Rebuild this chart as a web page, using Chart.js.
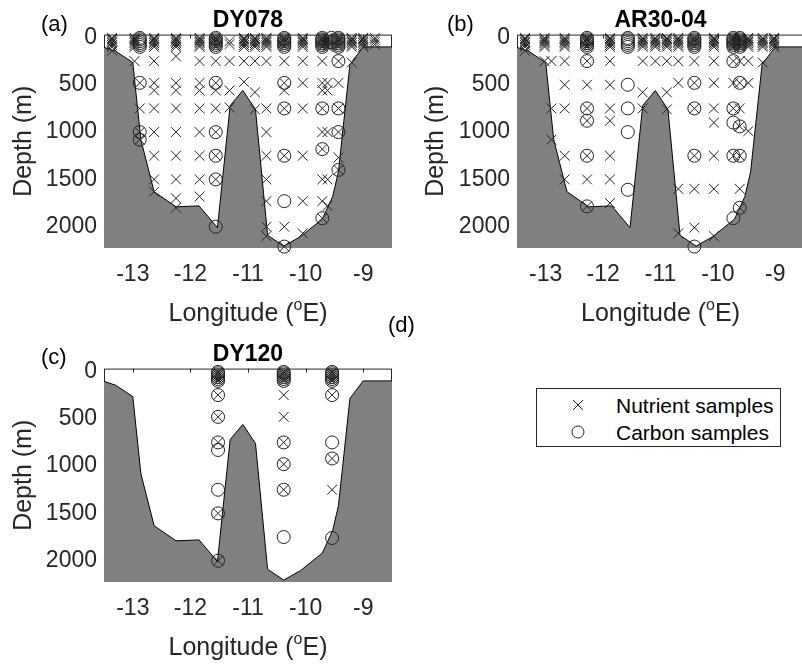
<!DOCTYPE html>
<html>
<head>
<meta charset="utf-8">
<script src="https://cdn.jsdelivr.net/npm/chart.js@4.4.1/dist/chart.umd.min.js"></script>
<style>
  html, body { margin: 0; padding: 0; background: #fff; }
  body { width: 802px; height: 664px; overflow: hidden; position: relative; font-family: "Liberation Sans", Arial, sans-serif; }
  canvas { position: absolute; }
  .tag { position: absolute; font-size: 22px; color: #000; line-height: 1; }
  #legend { position: absolute; left: 536px; top: 388px; width: 243px; height: 57px; border: 1.5px solid #262626; box-sizing: content-box; }
  #legend .row { position: absolute; left: 0; height: 26px; font-size: 21px; color: #000; }
  #legend svg { position: absolute; left: 34px; top: 6px; }
  #legend span { position: absolute; left: 79px; top: 2px; white-space: nowrap; }
</style>
</head>
<body>
<canvas id="pa" width="400" height="330" style="left:0;top:0"></canvas>
<canvas id="pb" width="412" height="330" style="left:400px;top:0"></canvas>
<canvas id="pc" width="400" height="334" style="left:0;top:330px"></canvas>

<div class="tag" style="left:41px;top:13px">(a)</div>
<div class="tag" style="left:447px;top:13px">(b)</div>
<div class="tag" style="left:41px;top:346px">(c)</div>
<div class="tag" style="left:388px;top:314px">(d)</div>

<div id="legend">
  <div class="row" style="top:3px">
    <svg width="14" height="14"><path d="M2 2 L12 12 M12 2 L2 12" stroke="#222" stroke-width="1"/></svg>
    <span>Nutrient samples</span>
  </div>
  <div class="row" style="top:30px">
    <svg width="14" height="14"><circle cx="7" cy="7" r="6" fill="none" stroke="#222" stroke-width="1"/></svg>
    <span>Carbon samples</span>
  </div>
</div>

<script>
// section bathymetry (same for all cruises)
const bathyLon   = [-13.5, -13.3, -13.0, -12.86, -12.63, -12.25, -11.85, -11.53, -11.31, -11.09, -10.87, -10.66, -10.38, -10.09, -9.71, -9.53, -9.43, -9.23, -9.0, -8.5];
const bathyDepth = [105, 145, 265, 1080, 1630, 1790, 1780, 2010, 720, 560, 762, 2090, 2205, 2105, 1920, 1680, 1420, 285, 100, 100];

const lonTicks = [-13, -12, -11, -10, -9];
const depthTicks = [0, 500, 1000, 1500, 2000];

// near-surface sampling depths
const surfN = [5, 15, 30, 45, 60, 80, 100];
const surfC = [5, 20, 40, 60, 80, 100];

// [longitude, depths]
const dy078Nutrients = [
  [-13.36, [...surfN, 140]],
  [-12.97, [...surfN, 250]],
  [-12.88, [480, 750, 1000, 1080]],
  [-12.63, [...surfN, 250, 480, 560, 750, 1000, 1250, 1500, 1630]],
  [-12.25, [...surfN, 200, 480, 560, 750, 1000, 1250, 1500, 1700, 1800]],
  [-11.84, [...surfN, 250, 480, 560, 750, 1000, 1250, 1500, 1680]],
  [-11.56, [...surfN, 250, 480, 560, 750, 1000, 1250, 1500]],
  [-11.32, [40, 70, 250, 560, 740]],
  [-11.07, [...surfN, 250, 470]],
  [-10.88, [...surfN, 250, 580, 760]],
  [-10.68, [...surfN, 250, 750, 1000, 1250, 1500, 1730, 2000, 2100]],
  [-10.37, [...surfN, 250, 480, 560, 750, 1250, 2000, 2210]],
  [-10.05, [...surfN, 250, 480, 750, 1250, 1730, 2070]],
  [-9.71, [...surfN, 250, 480, 560, 750, 1000, 1180, 1500, 1730, 1910]],
  [-9.62, [...surfN, 480, 560, 1000, 1500, 1780]],
  [-9.43, [...surfN, 250, 480, 750, 1000, 1270, 1400]],
  [-9.20, [...surfN, 265]],
  [-9.00, [...surfN]],
  [-8.80, [5, 25, 50, 75]]
];
const dy078Carbon = [
  [-12.88, [...surfC, 480, 1000, 1080]],
  [-11.56, [...surfC, 480, 1000, 1250, 1500, 2000]],
  [-10.37, [...surfC, 480, 750, 1250, 1730, 2210]],
  [-9.71, [...surfC, 750, 1180, 1910]],
  [-9.55, [5, 50]],
  [-9.43, [...surfC, 250, 750, 1000, 1400]]
];

const ar3004Nutrients = [
  [-13.36, [...surfN, 140]],
  [-13.02, [...surfN, 250]],
  [-12.90, [250, 750, 1080]],
  [-12.67, [...surfN, 250, 500, 750, 1250, 1500]],
  [-12.28, [...surfN, 250, 500, 750, 880, 1250, 1500, 1785]],
  [-11.88, [...surfN, 250, 500, 750, 880, 1250, 1500, 1750]],
  [-11.31, [...surfN, 250, 580, 750]],
  [-11.09, [...surfN, 250]],
  [-10.89, [...surfN, 250, 580, 760]],
  [-10.69, [...surfN, 250, 480, 1600, 2070]],
  [-10.41, [...surfN, 250, 480, 750, 1250, 1600, 2010]],
  [-10.07, [...surfN, 250, 480, 750, 900, 1250, 1600, 2100]],
  [-9.73, [...surfN, 250, 480, 750, 1250]],
  [-9.62, [...surfN, 250, 480, 750, 940, 1250, 1600, 1800]],
  [-9.47, [...surfN, 250, 480, 990]],
  [-9.22, [...surfN, 265]],
  [-9.02, [...surfN]]
];
const ar3004Carbon = [
  [-12.28, [...surfC, 250, 750, 880, 1250, 1785]],
  [-11.57, [...surfC, 500, 750, 1000, 1610]],
  [-10.41, [...surfC, 480, 750, 1250, 2210]],
  [-9.73, [...surfC, 250, 750, 900, 1250, 1910]],
  [-9.62, [...surfC, 480, 940, 1250, 1800]]
];

const dy120Nutrients = [
  [-11.52, [...surfC, 250, 480, 750, 1500, 2000]],
  [-10.38, [...surfC, 250, 480, 750, 980, 1250]],
  [-9.54, [...surfC, 250, 920, 1250]]
];
const dy120Carbon = [
  [-11.52, [...surfC, 250, 480, 750, 830, 1250, 1500, 2000]],
  [-10.38, [...surfC, 750, 980, 1250, 1750]],
  [-9.54, [...surfC, 250, 750, 920, 1760]]
];

const lonMin = -13.5, lonMax = -8.5;
const depthMin = -30, depthMax = 2225;
const ink = '#222';
const axisInk = '#262626';
const fontFam = '"Liberation Sans", Arial, sans-serif';

function toPoints(stations) {
  const pts = [];
  stations.forEach(([lon, depths]) => depths.forEach(d => pts.push({ x: lon, y: d })));
  return pts;
}

// axes box + inward ticks on the top edge, drawn under the bathymetry like matlab
const frame = {
  id: 'frame',
  beforeDatasetsDraw(chart) {
    const { ctx, chartArea: a, scales: { x } } = chart;
    ctx.save();
    ctx.strokeStyle = axisInk;
    ctx.lineWidth = 1;
    ctx.strokeRect(a.left + 0.5, a.top + 0.5, a.width - 1, a.height - 1);
    x.ticks.forEach(t => {
      const px = Math.round(x.getPixelForValue(t.value)) + 0.5;
      ctx.beginPath();
      ctx.moveTo(px, a.top);
      ctx.lineTo(px, a.top + 4);
      ctx.stroke();
    });
    ctx.restore();
  }
};

// x axis title with a raised small "o"
const lonTitle = {
  id: 'lonTitle',
  afterDraw(chart) {
    const { ctx, chartArea: a } = chart;
    const parts = [['Longitude (', 25, 0], ['o', 16, -8], ['E)', 25, 0]];
    ctx.save();
    ctx.fillStyle = axisInk;
    ctx.textBaseline = 'middle';
    ctx.textAlign = 'left';
    let w = 0;
    parts.forEach(([t, s]) => { ctx.font = s + 'px ' + fontFam; w += ctx.measureText(t).width; });
    let x = (a.left + a.right) / 2 - w / 2;
    const y = chart.height - 16;
    parts.forEach(([t, s, dy]) => {
      ctx.font = s + 'px ' + fontFam;
      ctx.fillText(t, x, y + dy);
      x += ctx.measureText(t).width;
    });
    ctx.restore();
  }
};

function panel(id, name, nut, carb, yAxisWidth, yTitlePad, topPad) {
  const bathy = bathyLon.map((lon, i) => ({ x: lon, y: bathyDepth[i] }));
  new Chart(document.getElementById(id), {
    type: 'scatter',
    data: {
      datasets: [
        {
          label: 'Nutrient samples',
          data: toPoints(nut),
          pointStyle: 'crossRot',
          pointRadius: 7,
          borderColor: ink,
          borderWidth: 1,
          backgroundColor: 'rgba(0,0,0,0)',
          clip: false,
          order: 1
        },
        {
          label: 'Carbon samples',
          data: toPoints(carb),
          pointStyle: 'circle',
          pointRadius: 6.5,
          borderColor: ink,
          borderWidth: 1,
          backgroundColor: 'rgba(0,0,0,0)',
          clip: false,
          order: 2
        },
        {
          label: 'Bathymetry',
          data: bathy,
          showLine: true,
          pointRadius: 0,
          borderColor: '#000',
          borderWidth: 1,
          backgroundColor: '#808080',
          fill: { value: depthMax },
          order: 3
        }
      ]
    },
    options: {
      responsive: false,
      animation: false,
      devicePixelRatio: 1,
      layout: { padding: { top: 0, right: 1, left: 0, bottom: 0 } },
      plugins: {
        legend: { display: false },
        tooltip: { enabled: false },
        title: {
          display: true,
          text: name,
          fullSize: false,
          color: '#000',
          font: { family: fontFam, size: 23, weight: 'bold' },
          padding: { top: topPad, bottom: 0 }
        }
      },
      scales: {
        x: {
          type: 'linear',
          min: lonMin,
          max: lonMax,
          afterBuildTicks: s => { s.ticks = lonTicks.map(v => ({ value: v })); },
          afterFit: s => { s.height = 82; },
          grid: { display: false, drawTicks: false },
          border: { display: false },
          ticks: { color: axisInk, padding: 13, font: { family: fontFam, size: 23 } }
        },
        y: {
          type: 'linear',
          reverse: true,
          min: depthMin,
          max: depthMax,
          afterBuildTicks: s => { s.ticks = depthTicks.map(v => ({ value: v })); },
          afterFit: s => { s.width = yAxisWidth; },
          grid: { display: false, drawTicks: false },
          border: { display: false },
          ticks: {
            color: axisInk,
            padding: 7,
            font: { family: fontFam, size: 23 },
            callback: v => String(v)
          },
          title: {
            display: true,
            text: 'Depth (m)',
            color: axisInk,
            padding: { top: yTitlePad, bottom: 0 },
            font: { family: fontFam, size: 25 }
          }
        }
      }
    },
    plugins: [frame, lonTitle]
  });
}

panel('pa', 'DY078', dy078Nutrients, dy078Carbon, 104, 9, 7);
panel('pb', 'AR30-04', ar3004Nutrients, ar3004Carbon, 117, 21, 7);
panel('pc', 'DY120', dy120Nutrients, dy120Carbon, 104, 9, 11);
</script>
</body>
</html>
